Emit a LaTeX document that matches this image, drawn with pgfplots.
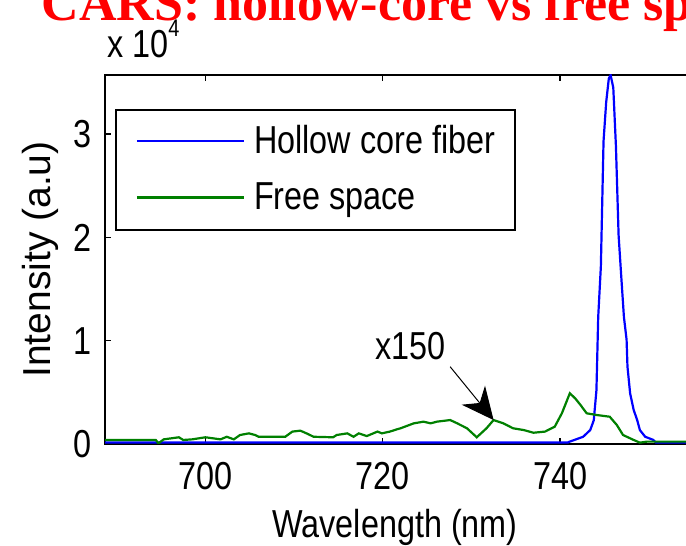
\documentclass[border=0pt]{standalone}
\usepackage{fontspec}
\setmainfont{Liberation Sans}[FakeStretch=0.83]
\newfontfamily\ylabfont{Liberation Sans}
\newfontfamily\titlefont{Liberation Serif}
\usepackage{pgfplots}
\pgfplotsset{compat=1.18}
\usetikzlibrary{arrows.meta}
\definecolor{mgreen}{RGB}{0,128,0}
\definecolor{mblue}{RGB}{0,0,255}

\pgfplotstableread{
x y
688.67 150
740.9 150
741.0 200
742.6 700
743.4 1350
743.8 2300
744.1 5200
744.3 12300
744.6 17200
744.9 29300
745.2 33100
745.5 35400
745.7 35700
746.0 34500
746.3 28800
746.6 20200
746.9 16200
747.2 12300
747.5 10100
747.6 7500
747.9 4900
748.3 3300
748.7 2300
749.0 1350
749.6 700
750.5 400
750.8 150
760 150
}\hollowcore

\pgfplotstableread{
x y
688.67 390
694.4 390
694.7 70
695.3 450
697.0 650
697.5 390
698.5 450
700.0 650
701.7 450
702.4 700
703.2 450
703.9 870
704.9 1030
705.6 870
706.0 700
709.0 700
709.8 1200
710.7 1290
711.4 1030
712.2 700
714.4 650
714.8 870
716.0 1030
716.7 700
717.3 1030
718.2 770
719.4 1200
719.9 1030
720.8 1200
721.6 1420
722.0 1520
723.5 2000
724.6 2160
725.4 2000
726.1 2160
727.6 2320
728.4 2000
729.5 1520
730.6 650
731.7 1520
732.5 2320
733.6 2000
734.7 1520
735.9 1350
737.0 1090
738.3 1200
739.4 1680
740.2 2970
741.1 4910
741.7 4420
742.3 3780
743.0 2970
744.1 2810
745.6 2640
746.4 1840
747.1 870
748.3 390
749.0 130
749.8 230
760 230
}\freespace

\begin{document}
\fontsize{39bp}{45bp}\selectfont
\begin{tikzpicture}
\begin{axis}[
  at={(105bp,102bp)}, anchor=south west,
  scale only axis, width=632.4bp, height=369bp,
  xmin=688.67, xmax=760, ymin=0, ymax=35720,
  xtick={700,720,740},
  ytick={0,10000,20000,30000}, yticklabels={0,1,2,3},
  scaled y ticks=false,
  /pgf/number format/assume math mode=true,
  /pgf/number format/1000 sep={},
  tick align=inside, major tick length=6bp,
  axis line style={line width=1.8bp},
  every tick/.style={black, line width=1.4bp},
  xticklabel style={inner sep=0pt, anchor=north, yshift=-18bp},
  yticklabel style={inner sep=0pt, anchor=east, xshift=-13bp},
  xlabel={Wavelength (nm)},
  xlabel style={at={(axis description cs:0.4586,-0.1762)}, anchor=north, inner sep=0pt},
  ylabel={\ylabfont Intensity (a.u)},
  ylabel style={at={(axis description cs:-0.1028,0.5)}, anchor=center, rotate=0, inner sep=0pt},
  legend style={at={(axis description cs:0.0158,0.9079)}, anchor=north west,
    draw=black, line width=1.8bp, inner xsep=20bp, inner ysep=15bp,
    row sep=23.2bp, column sep=9bp,
    nodes={inner sep=0pt}},
  legend cell align=left,
  legend image code/.code={\draw[#1] (0bp,1bp) -- (107bp,1bp);},
]
\addplot[color=mblue, line width=2.2bp] table[x=x,y=y] {\hollowcore};
\addlegendentry{Hollow core fiber}
\addplot[color=mgreen, line width=2.2bp] table[x=x,y=y] {\freespace};
\addlegendentry{Free space}
\draw[line width=1bp, -{Stealth[length=32bp, width=30bp, inset=10bp]}] (axis cs:727.6,7480) -- (axis cs:732.5,2320);
\node at (axis cs:723.1,9490) {x150};
\end{axis}
\node[anchor=base west, inner sep=0pt] at (107bp,488bp) {x 10\raisebox{21bp}{\fontsize{24bp}{28bp}\selectfont 4}};
\node[anchor=base west, inner sep=0pt, text=red, font=\titlefont\bfseries\fontsize{52bp}{60bp}\selectfont] at (41.5bp,525bp) {CARS: hollow-core vs free space};
\pgfresetboundingbox
\path[use as bounding box] (0,0) rectangle (686bp,546bp);
\end{tikzpicture}
\end{document}
